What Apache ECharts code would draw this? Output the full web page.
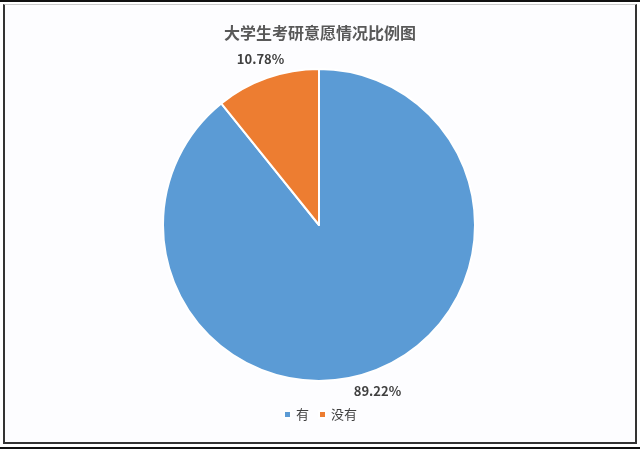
<!DOCTYPE html>
<html>
<head>
<meta charset="utf-8">
<script src="https://cdn.jsdelivr.net/npm/echarts@6/dist/echarts.min.js"></script>
<style>
    body { margin: 0; background: #fff; }
    .line { position: absolute; left: 0; width: 640px; height: 2px; background: #111; }
    #frame {
        position: absolute; left: 3px; top: 4px; width: 630px; height: 437px;
        border-left: 2px solid #333; border-right: 2px solid #333;
        border-bottom: 2px solid #333; border-top: 1px solid #ccc;
        background: #fdfdff;
    }
    #main { position: absolute; left: 0; top: 0; width: 640px; height: 449px; }
</style>
</head>
<body>
<div class="line" style="top:0"></div>
<div id="frame"></div>
<div class="line" style="top:447px"></div>
<div id="main"></div>
<script>
    // 数据
    var categories = ['有', '没有'];
    var values = [89.22, 10.78];
    var colors = ['#5B9BD5', '#ED7D31'];

    var pieData = [];
    for (var i = 0; i < categories.length; i++) {
        pieData.push({ name: categories[i], value: values[i], itemStyle: { color: colors[i] } });
    }

    var myChart = echarts.init(document.getElementById('main'));

    var option = {
        backgroundColor: 'transparent',
        title: {
            text: '大学生考研意愿情况比例图',
            left: 'center',
            top: 20,
            textStyle: {
                fontFamily: 'Noto Sans CJK SC',
                fontSize: 16,
                fontWeight: 'bold',
                color: '#595959'
            }
        },
        legend: {
            data: categories,
            top: 403,
            left: 'center',
            icon: 'rect',
            itemWidth: 7,
            itemHeight: 7,
            itemGap: 9,
            textStyle: {
                fontFamily: 'Noto Sans CJK SC',
                fontSize: 13,
                color: '#404040'
            }
        },
        series: [{
                type: 'pie',
                center: [319, 225],
                radius: 156,
                startAngle: 90,
                clockwise: true,
                animation: false,
                itemStyle: {
                    borderColor: '#fff',
                    borderWidth: 2
                },
                label: { show: false },
                labelLine: { show: false },
                data: pieData
            },
            // 透明外环，只用来放百分比标签
            {
                type: 'pie',
                center: [319, 225],
                radius: [158, 188],
                startAngle: 90,
                clockwise: true,
                animation: false,
                silent: true,
                itemStyle: { color: 'transparent' },
                label: {
                    show: true,
                    position: 'inside',
                    formatter: function(p) {
                        return p.value.toFixed(2) + '%';
                    },
                    fontFamily: 'Noto Sans CJK SC',
                    fontSize: 13,
                    fontWeight: 'bold',
                    color: '#404040'
                },
                labelLine: { show: false },
                data: pieData.map(function(d) {
                    return { name: d.name, value: d.value };
                })
            }
        ]
    };
    myChart.setOption(option);
</script>
</body>
</html>
